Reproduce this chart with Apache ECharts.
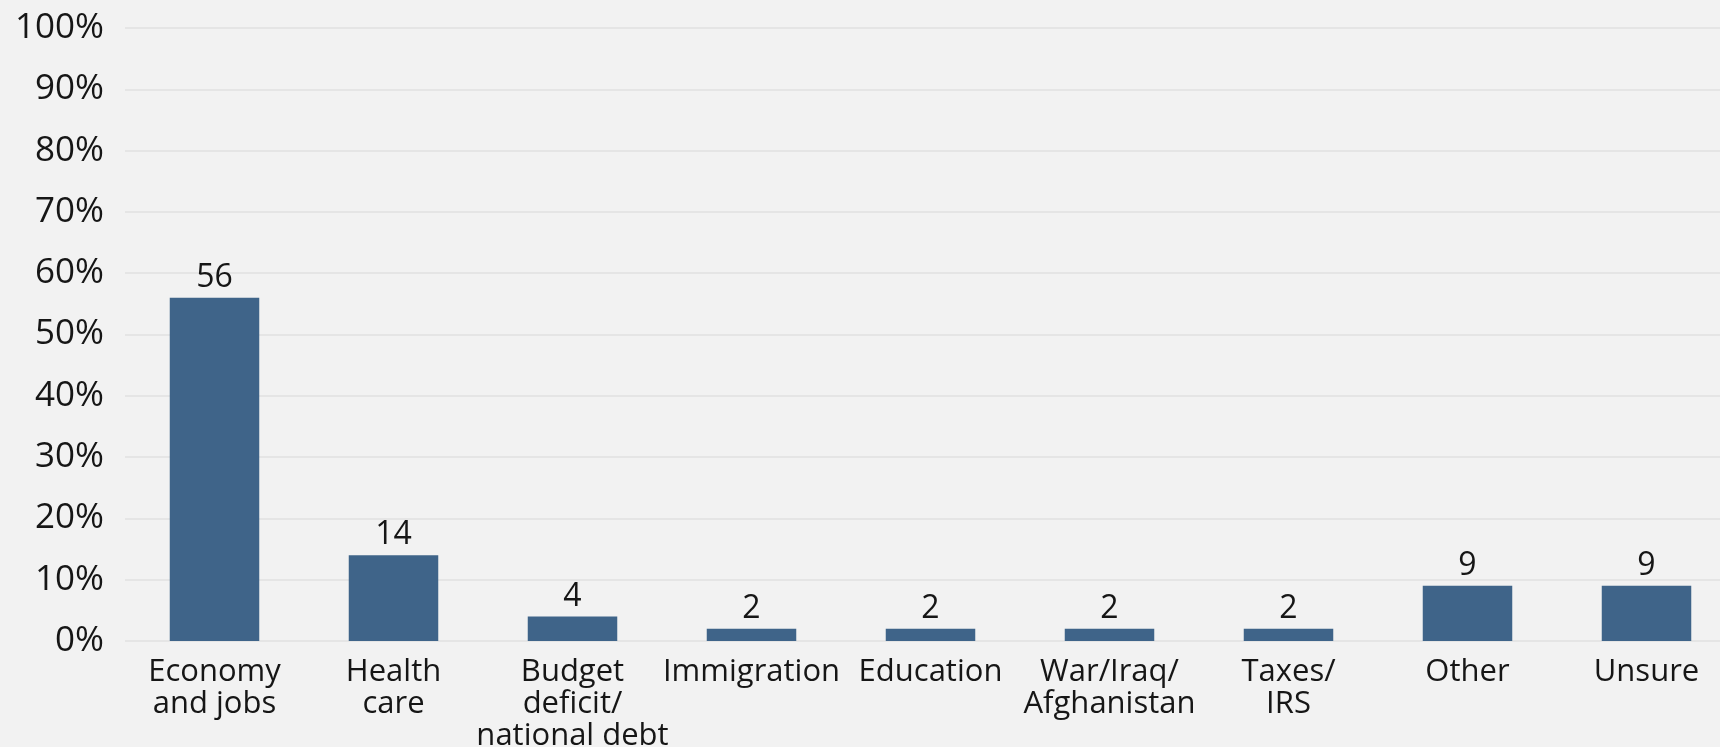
<!DOCTYPE html>
<html>
<head>
<meta charset="utf-8">
<style>
  html, body { margin: 0; padding: 0; background: #f2f2f2; overflow: hidden; }
  #chart { width: 1720px; height: 747px; }
</style>
<script src="https://cdn.jsdelivr.net/npm/echarts@6/dist/echarts.min.js"></script>
</head>
<body>
<div id="chart"></div>
<script>
// Most important issue (percent of respondents)
const categories = [
  'Economy\nand jobs',
  'Health\ncare',
  'Budget\ndeficit/\nnational debt',
  'Immigration',
  'Education',
  'War/Iraq/\nAfghanistan',
  'Taxes/\nIRS',
  'Other',
  'Unsure'
];
const values = [56, 14, 4, 2, 2, 2, 2, 9, 9];

const FONT = '"Open Sans", "Noto Sans", sans-serif';
const TEXT = '#161616';

const chart = echarts.init(document.getElementById('chart'), null, { renderer: 'canvas' });
chart.setOption({
  backgroundColor: '#f2f2f2',
  animation: false,
  // the last category band and the lowest label line run past the edges
  grid: {
    left: 125, top: 28, bottom: 106, right: -16,
    containLabel: false,
    outerBoundsMode: 'none'
  },
  xAxis: {
    type: 'category',
    data: categories,
    axisLine: { show: false },
    axisTick: { show: false },
    axisLabel: {
      interval: 0,
      margin: 15,
      color: TEXT,
      fontFamily: FONT,
      fontSize: 31,
      lineHeight: 32
    }
  },
  yAxis: {
    type: 'value',
    min: 0,
    max: 100,
    interval: 10,
    axisLine: { show: false },
    axisTick: { show: false },
    splitLine: { lineStyle: { color: '#e0e0e0', width: 1.5 } },
    axisLabel: {
      margin: 21,
      color: TEXT,
      fontFamily: FONT,
      fontSize: 35,
      formatter: '{value}%'
    }
  },
  series: [{
    type: 'bar',
    data: values,
    barWidth: '50%',
    itemStyle: { color: '#3f6489' },
    label: {
      show: true,
      position: 'top',
      distance: 4,
      color: TEXT,
      fontFamily: FONT,
      fontSize: 32
    }
  }]
});
</script>
</body>
</html>
